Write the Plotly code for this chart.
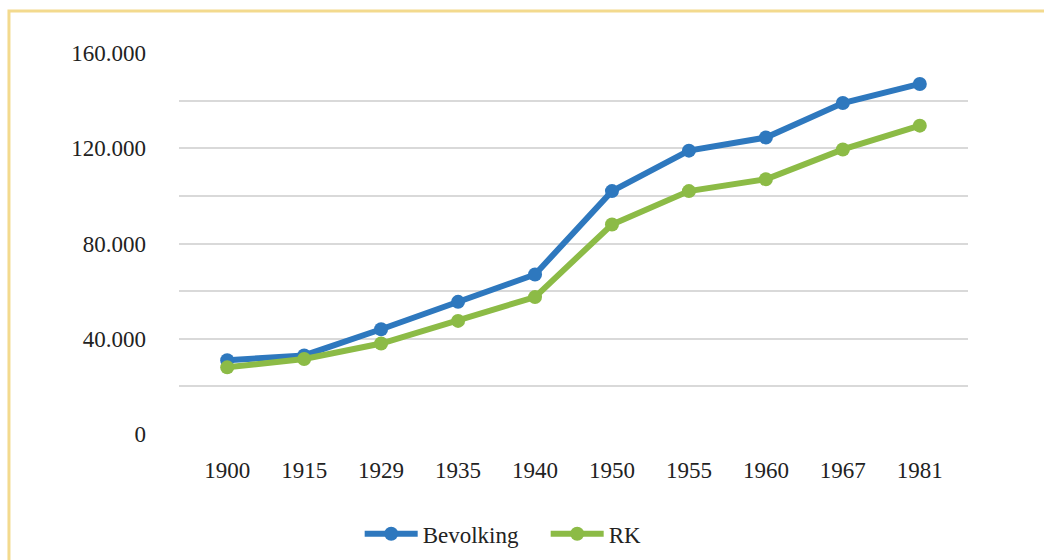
import plotly.graph_objs as go

# gegevens
jaren = ["1900", "1915", "1929", "1935", "1940", "1950", "1955", "1960", "1967", "1981"]
bevolking = [31000, 33000, 44000, 55500, 67000, 102000, 119000, 124500, 139000, 147000]
rk = [28000, 31500, 38000, 47500, 57500, 88000, 102000, 107000, 119500, 129500]

BLAUW = "#2E78BE"
GROEN = "#8CBB46"
FONT = "Liberation Serif"

fig = go.Figure()
fig.add_trace(go.Scatter(
    x=jaren, y=bevolking, name="Bevolking", mode="lines+markers",
    line=dict(color=BLAUW, width=6), marker=dict(size=14, color=BLAUW)
))
fig.add_trace(go.Scatter(
    x=jaren, y=rk, name="RK", mode="lines+markers",
    line=dict(color=GROEN, width=6), marker=dict(size=14, color=GROEN)
))

# gele kader rond de figuur
fig.add_shape(
    type="rect", xref="paper", yref="paper",
    x0=-0.2155, x1=1.2, y0=-0.45, y1=1.110,
    line=dict(color="#F3DA8E", width=3), layer="below"
)

fig.update_layout(
    width=1044, height=560,
    margin=dict(l=179, r=76, t=53, b=126, autoexpand=False),
    paper_bgcolor="white", plot_bgcolor="white",
    separators=",.",
    font=dict(family=FONT, size=23, color="#222222"),
    showlegend=True,
    legend=dict(
        orientation="h", x=0.229, xanchor="left", y=-0.262, yanchor="middle",
        font=dict(size=23), tracegroupgap=0, itemwidth=53,
        entrywidth=118, entrywidthmode="pixels"
    ),
    xaxis=dict(
        type="category", showgrid=False, showline=False, zeroline=False,
        ticks="", ticklabelstandoff=20, automargin=False
    ),
    yaxis=dict(
        range=[0, 160000], dtick=40000, tickformat=",d",
        showgrid=True, gridcolor="#D9D9D9", gridwidth=2,
        minor=dict(dtick=20000, showgrid=True, gridcolor="#D9D9D9", gridwidth=2),
        zeroline=False, showline=False, ticks="", ticklabelstandoff=32,
        automargin=False
    ),
)

# body-marge weg, geen schuifbalken
fig.write_html(
    "out.html",
    config={"displayModeBar": False},
    post_script="document.body.style.margin='0';document.body.style.overflow='hidden';"
)
